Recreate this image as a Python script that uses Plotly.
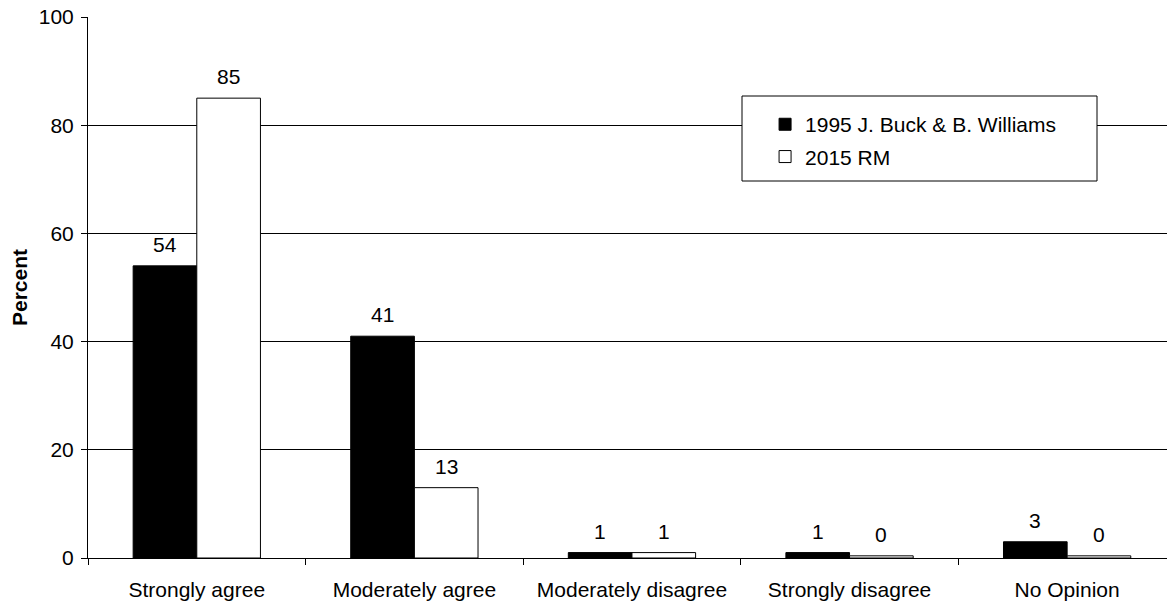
import plotly.graph_objects as go

categories = ["Strongly agree", "Moderately agree", "Moderately disagree", "Strongly disagree", "No Opinion"]
series_1995 = [54, 41, 1, 1, 3]
series_2015 = [85, 13, 1, 0.4, 0.4]
name_1995 = "1995 J. Buck & B. Williams"
name_2015 = "2015 RM"
y_ticks = [0, 20, 40, 60, 80, 100]

FONT = "Liberation Sans, Arial, Helvetica, sans-serif"
FS = 21
BARGAP = 0.415

fig = go.Figure()
fig.add_trace(go.Bar(x=categories, y=series_1995, name=name_1995,
                     marker=dict(color="black", line=dict(color="black", width=1)),
                     legendgroup="a"))
fig.add_trace(go.Bar(x=categories, y=series_2015, name=name_2015,
                     marker=dict(color="white", line=dict(color="black", width=1)),
                     legendgroup="b"))

# value labels above bars
half = (1 - BARGAP) / 4
for i, (a, b) in enumerate(zip(series_1995, series_2015)):
    for off, v in ((-half, a), (half, b)):
        fig.add_annotation(x=i + off, y=v, text=f"{round(v)}", showarrow=False,
                           yanchor="bottom", xanchor="center", yshift=8,
                           font=dict(size=FS, color="black", family=FONT))

fig.update_layout(
    width=1167, height=606,
    margin=dict(l=88, r=0, t=17, b=48),
    barmode="group", bargap=BARGAP, bargroupgap=0,
    plot_bgcolor="white", paper_bgcolor="white",
    font=dict(family=FONT, size=FS, color="black"),
    showlegend=True,
    legend=dict(x=0.6275, y=0.839, xanchor="left", yanchor="top",
                bgcolor="rgba(0,0,0,0)", borderwidth=0,
                font=dict(size=FS, family=FONT), tracegroupgap=2),
    shapes=[dict(type="rect", xref="paper", yref="paper",
                 x0=(742 - 88) / 1079, x1=(1097 - 88) / 1079,
                 y0=(558 - 181) / 541, y1=(558 - 96) / 541,
                 line=dict(color="black", width=1), fillcolor="white", layer="above")],
)
fig.update_xaxes(type="category", range=[-0.5, 4.459], showline=True, linecolor="black", linewidth=1,
                 ticks="outside", tickson="boundaries", ticklen=6, tickcolor="black",
                 showgrid=False, ticklabelstandoff=13)
fig.update_yaxes(range=[0, 100], tickvals=y_ticks, showline=True, linecolor="black", linewidth=1,
                 ticks="outside", ticklen=6, tickcolor="black", showgrid=True,
                 gridcolor="black", gridwidth=1, zeroline=False, ticklabelstandoff=3,
                 title=dict(text="<b>Percent</b>", standoff=5, font=dict(size=FS)))

fig.write_html("out.html", config={"displayModeBar": False},
               post_script="document.body.style.margin='0';document.body.style.overflow='hidden';")
